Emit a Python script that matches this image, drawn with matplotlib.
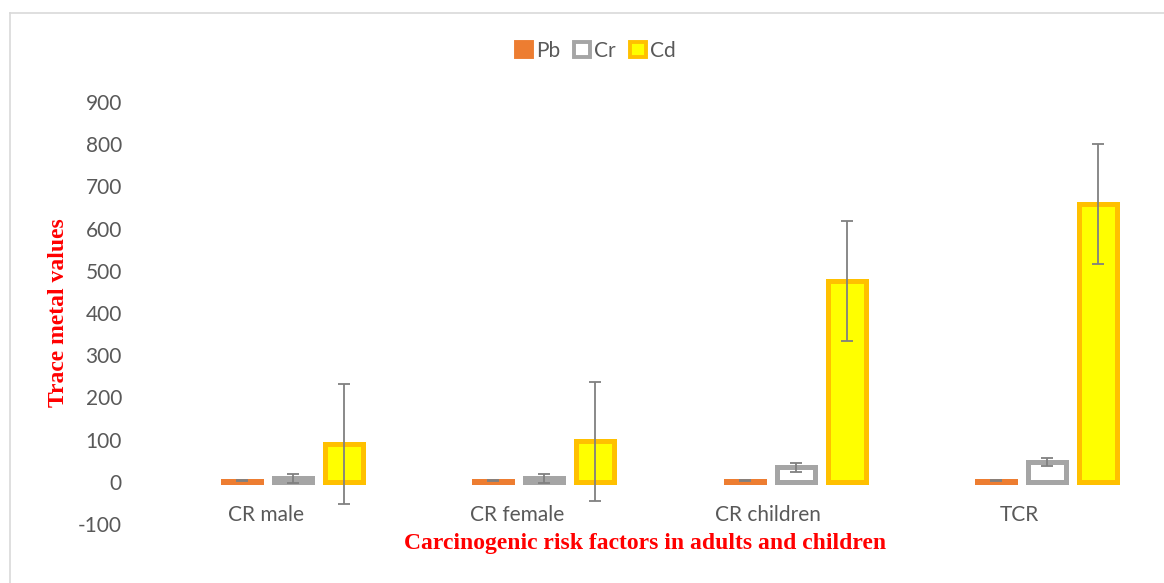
import matplotlib
matplotlib.use("Agg")
import matplotlib.pyplot as plt
from matplotlib.patches import Patch
from matplotlib.lines import Line2D
import numpy as np

categories = ["CR male", "CR female", "CR children", "TCR"]
series = ["Pb", "Cr", "Cd"]
pb_vals = [3, 3, 3, 3]
pb_err = [1, 1, 1, 1]
cr_vals = [8, 8, 34, 47]
cr_err = [10, 10, 10, 9]
cd_vals = [90, 96, 476, 658]
cd_err = [142, 141, 142, 142]
yticks = [-100, 0, 100, 200, 300, 400, 500, 600, 700, 800, 900]

W, H = 1164, 583
fig = plt.figure(figsize=(W/100, H/100), dpi=100)
ax = fig.add_axes([140/W, 1-524/H, (1145-140)/W, (524-102)/H])

font = "Lato"
tick_col = "#595959"
fs = 15
pitch = 51/251
bw = 38/251
shift = 2/251
x = np.arange(len(categories))
lw = 3.6
styles = [
    dict(face="#ED7D31", edge="#ED7D31"),
    dict(face="#FFFFFF", edge="#A5A5A5"),
    dict(face="#FFFF00", edge="#FFC000"),
]
data = [(pb_vals, pb_err), (cr_vals, cr_err), (cd_vals, cd_err)]
for k, ((v, e), st) in enumerate(zip(data, styles)):
    pos = x + (k - 0.5) * pitch + shift
    ax.bar(pos, v, width=bw, color=st["face"], edgecolor=st["edge"], linewidth=lw, zorder=2)
    ax.errorbar(pos, v, yerr=e, fmt="none", ecolor="#808080", elinewidth=1.3,
                capsize=4.5, capthick=1.3, zorder=3)

ax.set_xlim(-0.5, len(categories) - 0.5)
ax.set_ylim(-100, 900)
ax.set_yticks(yticks)
ax.set_yticklabels([str(t) for t in yticks], fontsize=fs, color=tick_col, family=font)
ax.set_xticks(x)
ax.set_xticklabels(categories, fontsize=fs, color=tick_col, family=font)
ax.tick_params(axis="both", length=0)
ax.tick_params(axis="y", pad=13)
ax.tick_params(axis="x", pad=-14)
for s in ax.spines.values():
    s.set_visible(False)

fig.text(645/W, 1-543/H, "Carcinogenic risk factors in adults and children", color="red",
         fontsize=17, fontweight="bold", family="Liberation Serif", ha="center", va="center")
fig.text(58/W, 1-313/H, "Trace metal values", color="red", rotation=90,
         fontsize=17, fontweight="bold", family="Liberation Serif", ha="center", va="center")

handles = [Patch(facecolor=st["face"], edgecolor=st["edge"], linewidth=2.8) for st in styles]
leg = fig.legend(handles, series, loc="center", bbox_to_anchor=(596/W, 1-51/H), ncol=3,
                 frameon=False, handlelength=0.75, handleheight=0.75, handletextpad=0.2,
                 columnspacing=0.7, prop=dict(family=font, size=fs))
for t in leg.get_texts():
    t.set_color(tick_col)

# frame lines (top and left)
fig.add_artist(Line2D([10/W, 10/W], [0, 1-13/H], color="#D9D9D9", lw=1.2, transform=fig.transFigure))
fig.add_artist(Line2D([10/W, 1], [1-13/H, 1-13/H], color="#D9D9D9", lw=1.2, transform=fig.transFigure))

fig.savefig("out.png", dpi=100)
